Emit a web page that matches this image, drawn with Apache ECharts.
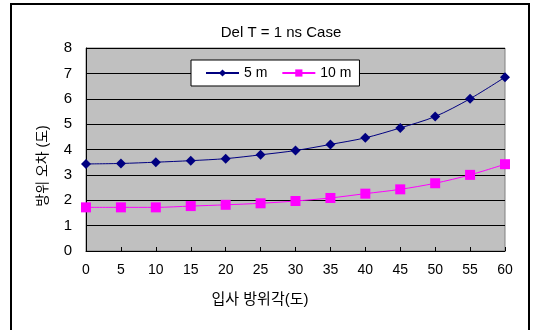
<!DOCTYPE html>
<html>
<head>
<meta charset="utf-8">
<script src="https://cdn.jsdelivr.net/npm/echarts@6/dist/echarts.min.js"></script>
<style>
  html, body { margin: 0; padding: 0; background: #fff; }
  #chart { width: 533px; height: 330px; }
</style>
</head>
<body>
<div id="chart"></div>
<script>
// Incidence azimuth (degrees)
const angles = ['0', '5', '10', '15', '20', '25', '30', '35', '40', '45', '50', '55', '60'];
// Azimuth error (degrees) for each baseline length
const err5m  = [3.43, 3.45, 3.50, 3.56, 3.64, 3.79, 3.96, 4.20, 4.46, 4.85, 5.30, 6.00, 6.85];
const err10m = [1.72, 1.72, 1.72, 1.77, 1.82, 1.88, 1.97, 2.09, 2.26, 2.43, 2.67, 3.00, 3.42];
const seriesNames = ['5 m', '10 m'];
const xName = '입사 방위각(도)';
const yName = '방위 오차 (도)';

const FONT = '"Liberation Sans", "Noto Sans CJK KR", sans-serif';

const chart = echarts.init(document.getElementById('chart'));
chart.setOption({
  animation: false,
  backgroundColor: '#ffffff',
  textStyle: { fontFamily: FONT },
  title: {
    text: 'Del T = 1 ns Case',
    left: 276, top: 20, textAlign: 'center',
    textStyle: { fontSize: 15, fontWeight: 'normal', color: '#000', fontFamily: FONT }
  },
  graphic: [
    {
      type: 'rect',
      shape: { x: 11, y: 4, width: 518, height: 340 },
      style: { fill: 'none', stroke: '#000', lineWidth: 2 },
      silent: true, z: 100
    },
    {
      // x-axis title
      type: 'text', x: 260, y: 300,
      style: {
        text: xName, fill: '#000', font: '15px ' + FONT,
        align: 'center', verticalAlign: 'middle'
      },
      silent: true
    },
    {
      // y-axis title, rotated
      type: 'text', x: 43, y: 166, rotation: Math.PI / 2,
      style: {
        text: yName, fill: '#000', font: '14px ' + FONT,
        align: 'center', verticalAlign: 'middle'
      },
      silent: true
    }
  ],
  legend: {
    left: 191, top: 60,
    padding: [6, 8, 6, 14],
    itemGap: 14,
    itemWidth: 33, itemHeight: 9,
    backgroundColor: '#ffffff',
    borderColor: '#000', borderWidth: 1, borderRadius: 0,
    textStyle: { fontSize: 14, color: '#000', fontFamily: FONT },
    data: seriesNames
  },
  grid: {
    left: 86, right: 28, top: 48, bottom: 79,
    show: true, backgroundColor: '#c0c0c0', borderColor: '#808080', borderWidth: 1
  },
  xAxis: {
    type: 'category',
    data: angles,
    boundaryGap: false,
    axisLine: { lineStyle: { color: '#000', width: 1 } },
    axisTick: { inside: true, length: 4, lineStyle: { color: '#000' } },
    axisLabel: { fontSize: 14, color: '#000', margin: 12 },
    splitLine: { show: false }
  },
  yAxis: {
    type: 'value',
    min: 0, max: 8, interval: 1,
    axisLine: { show: true, lineStyle: { color: '#000', width: 1 } },
    axisTick: { show: false },
    axisLabel: { fontSize: 15, color: '#000', margin: 14 },
    splitLine: { lineStyle: { color: '#000', width: 1 } }
  },
  series: [
    {
      name: seriesNames[0], type: 'line', data: err5m,
      smooth: 0.3,
      symbol: 'diamond', symbolSize: 10,
      lineStyle: { color: '#000080', width: 1 },
      itemStyle: { color: '#000080' }
    },
    {
      name: seriesNames[1], type: 'line', data: err10m,
      smooth: 0.3,
      symbol: 'rect', symbolSize: 10,
      lineStyle: { color: '#ff00ff', width: 1 },
      itemStyle: { color: '#ff00ff' }
    }
  ]
});
</script>
</body>
</html>
